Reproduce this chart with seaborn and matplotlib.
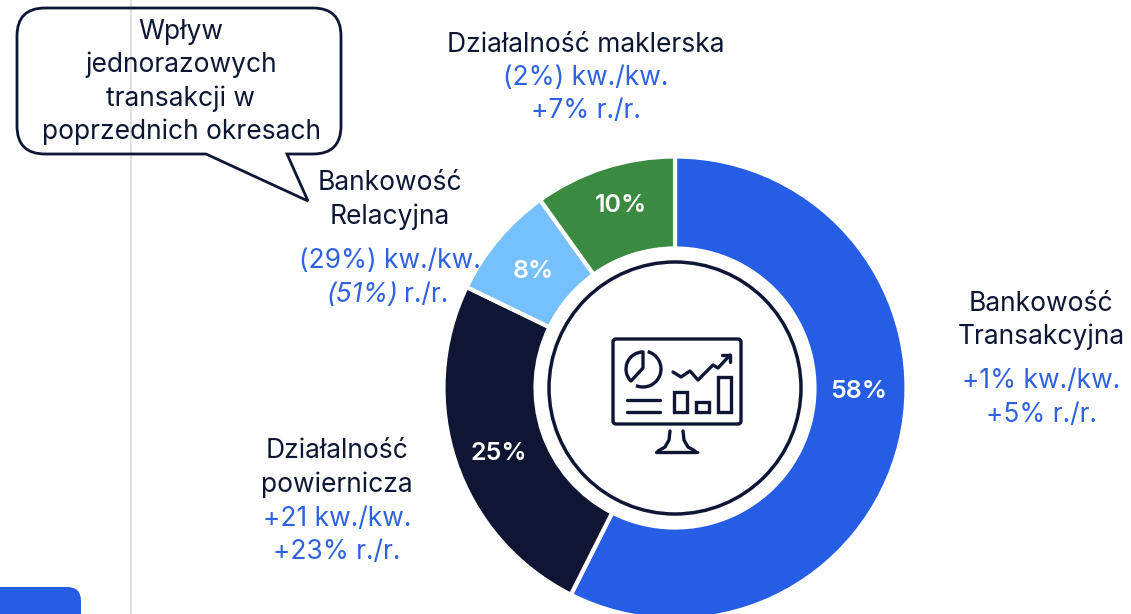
import matplotlib
matplotlib.use("Agg")
import matplotlib.pyplot as plt
import seaborn as sns
from matplotlib.patches import Circle, FancyBboxPatch, PathPatch, Rectangle, Arc
from matplotlib.path import Path

# Data
segments = ["Bankowość Transakcyjna", "Działalność powiernicza", "Bankowość Relacyjna", "Działalność maklerska"]
shares = [58, 25, 8, 10]
share_labels = ["58%", "25%", "8%", "10%"]
segment_colors = ["#255DE4", "#0E1633", "#76C1FD", "#3A8A41"]

NAVY = "#0E1633"
BLUE = "#2F62DF"
FS = 19

sns.set_theme(style="white")
plt.rcParams["font.family"] = ["Inter", "DejaVu Sans"]

fig, ax = plt.subplots(figsize=(11.31, 6.14), dpi=100)
ax.set_position([0, 0, 1, 1])

# Background bits
ax.plot([131, 131], [0, 614], color="#E2E2E2", lw=1.6, zorder=1)
ax.add_patch(FancyBboxPatch((-40, 587), 121, 80, boxstyle="round,pad=0,rounding_size=14",
                            fc="#255DE4", ec="none", zorder=1))

# Donut
ax.pie(shares, colors=segment_colors, center=(675, 388), radius=231.5,
       startangle=-90, counterclock=True, frame=True,
       wedgeprops=dict(width=92, edgecolor="white", linewidth=3))
ax.set_xlim(0, 1131)
ax.set_ylim(614, 0)
ax.set_aspect("auto")
ax.axis("off")
ax.add_patch(Circle((675, 388), 126, fc="white", ec=NAVY, lw=2.5, zorder=4))

# Share labels
share_pos = [(859, 391), (499, 453), (533, 272), (621, 205)]
for lab, (x, y) in zip(share_labels, share_pos):
    ax.text(x, y, lab, color="white", fontsize=18, fontweight="semibold",
            ha="center", va="center", zorder=5)


def line(x, y, s, color=NAVY, **kw):
    ax.text(x, y, s, color=color, fontsize=FS, ha="center", va="center", zorder=6, **kw)


# Category labels
line(586, 45, "Działalność maklerska")
line(586, 78, "(2%) kw./kw.", BLUE)
line(586, 111, "+7% r./r.", BLUE)

line(390, 183, "Bankowość")
line(390, 217, "Relacyjna")
line(390, 261, "(29%) kw./kw.", BLUE)
ax.text(399, 295, "(51%)", color=BLUE, fontsize=FS, ha="right", va="center", zorder=6,
        style="italic")
ax.text(404, 295, "r./r.", color=BLUE, fontsize=FS, ha="left", va="center", zorder=6)

line(1041, 304, "Bankowość")
line(1041, 337, "Transakcyjna")
line(1041, 381, "+1% kw./kw.", BLUE)
line(1041, 415, "+5% r./r.", BLUE)

line(337, 451, "Działalność")
line(337, 485, "powiernicza")
line(337, 519, "+21 kw./kw.", BLUE)
line(337, 552, "+23% r./r.", BLUE)

# Callout
r = 28
L, R, T, B = 17, 341, 8, 154
verts = [(L + r, T), (R - r, T), (R, T), (R, T + r), (R, B - r), (R, B), (R - r, B),
         (287, B), (308, 201), (206, B), (L + r, B), (L, B), (L, B - r), (L, T + r), (L, T), (L + r, T)]
codes = [Path.MOVETO, Path.LINETO, Path.CURVE3, Path.CURVE3, Path.LINETO, Path.CURVE3, Path.CURVE3,
         Path.LINETO, Path.LINETO, Path.LINETO, Path.LINETO, Path.CURVE3, Path.CURVE3, Path.LINETO,
         Path.CURVE3, Path.CURVE3]
ax.add_patch(PathPatch(Path(verts, codes), fc="none", ec=NAVY, lw=2.0, joinstyle="miter", zorder=3))
line(181, 32, "Wpływ")
line(181, 65, "jednorazowych")
line(181, 99, "transakcji w")
line(181, 132, "poprzednich okresach")

# Monitor icon
icon = dict(color=NAVY, lw=2.4, solid_capstyle="round", solid_joinstyle="round", zorder=7)
ax.add_patch(FancyBboxPatch((613, 339), 128, 85, boxstyle="round,pad=0,rounding_size=3",
                            fc="none", ec=NAVY, lw=2.4, zorder=7))
ax.add_patch(Arc((643, 369), 36, 36, theta1=-75, theta2=113, color=NAVY, lw=2.4, zorder=7))
ax.add_patch(Arc((643, 369), 34, 34, theta1=135, theta2=270, color=NAVY, lw=2.4, zorder=7))
ax.plot([643, 643, 631], [352, 368, 381], **icon)
ax.plot([673, 681, 690, 698, 713, 718, 730], [372, 377, 371, 380, 365, 368, 355], **icon)
ax.plot([722, 730, 730], [355, 355, 362], **icon)
ax.plot([627, 660], [400, 400], **icon)
ax.plot([627, 660], [412, 412], **icon)
ax.add_patch(Rectangle((674, 392), 13, 20, fc="none", ec=NAVY, lw=2.4, zorder=7))
ax.add_patch(Rectangle((696, 402), 13, 10, fc="none", ec=NAVY, lw=2.4, zorder=7))
ax.add_patch(Rectangle((718, 377), 13, 35, fc="none", ec=NAVY, lw=2.4, zorder=7))
ax.plot([656, 697], [452, 452], **icon)
ax.plot([670, 669, 665, 658], [431, 440, 447, 451], **icon)
ax.plot([683, 684, 688, 695], [431, 440, 447, 451], **icon)

plt.savefig("out.png", dpi=100)
